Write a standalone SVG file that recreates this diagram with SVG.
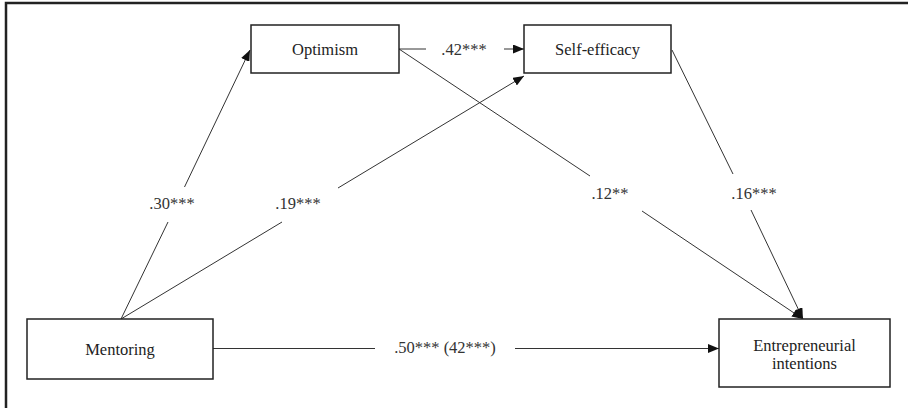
<svg xmlns="http://www.w3.org/2000/svg" width="908" height="408" viewBox="0 0 908 408">
<defs>
<marker id="arr" markerUnits="userSpaceOnUse" markerWidth="11" markerHeight="9" refX="11" refY="4.5" orient="auto">
<path d="M0,0 L11,4.5 L0,9 z" fill="#111"/>
</marker>
<style>
.box{fill:#fff;stroke:#222;stroke-width:1.5}
.t{font-family:"Liberation Serif","Times New Roman",serif;font-size:16.5px;fill:#222;text-anchor:middle}
.lbl{font-family:"Liberation Serif","Times New Roman",serif;font-size:16.5px;fill:#333;text-anchor:middle}
.ln{stroke:#333;stroke-width:1;fill:none}
.frame{stroke:#222;stroke-width:2.5;fill:none}
</style>
</defs>
<rect width="908" height="408" fill="#fff"/>
<path class="frame" d="M6,408 V3 H908"/>
<g id="connectors">
<line class="ln" x1="121" y1="319" x2="168" y2="222"/>
<line class="ln" x1="184.5" y1="187" x2="250" y2="50" marker-end="url(#arr)"/>
<line class="ln" x1="121" y1="319" x2="282" y2="222"/>
<line class="ln" x1="338" y1="188" x2="524" y2="76" marker-end="url(#arr)"/>
<line class="ln" x1="399" y1="49" x2="426" y2="49"/>
<line class="ln" x1="504" y1="49" x2="524" y2="49" marker-end="url(#arr)"/>
<line class="ln" x1="399" y1="49" x2="590" y2="176"/>
<line class="ln" x1="642" y1="211" x2="803" y2="319" marker-end="url(#arr)"/>
<line class="ln" x1="672" y1="50" x2="733" y2="174"/>
<line class="ln" x1="751" y1="210" x2="803" y2="319" marker-end="url(#arr)"/>
<line class="ln" x1="213" y1="348.5" x2="375" y2="348.5"/>
<line class="ln" x1="515" y1="348.5" x2="719" y2="348.5" marker-end="url(#arr)"/>
<text class="lbl" x="464" y="55">.42***</text>
<text class="lbl" x="172" y="209">.30***</text>
<text class="lbl" x="298" y="209">.19***</text>
<text class="lbl" x="610" y="199">.12**</text>
<text class="lbl" x="754" y="199">.16***</text>
<text class="lbl" x="445" y="353">.50*** (42***)</text>
</g>
<g id="optimism">
<rect class="box" x="251" y="25" width="148" height="48"/>
<text class="t" x="325" y="55">Optimism</text>
</g>
<g id="self-efficacy">
<rect class="box" x="524" y="25" width="147" height="48"/>
<text class="t" x="597.5" y="55">Self-efficacy</text>
</g>
<g id="mentoring">
<rect class="box" x="27" y="319" width="186" height="60"/>
<text class="t" x="120" y="355">Mentoring</text>
</g>
<g id="entrepreneurial-intentions">
<rect class="box" x="719" y="319" width="171" height="68"/>
<text class="t" x="804.5" y="351">Entrepreneurial</text>
<text class="t" x="804.5" y="369">intentions</text>
</g>
</svg>
